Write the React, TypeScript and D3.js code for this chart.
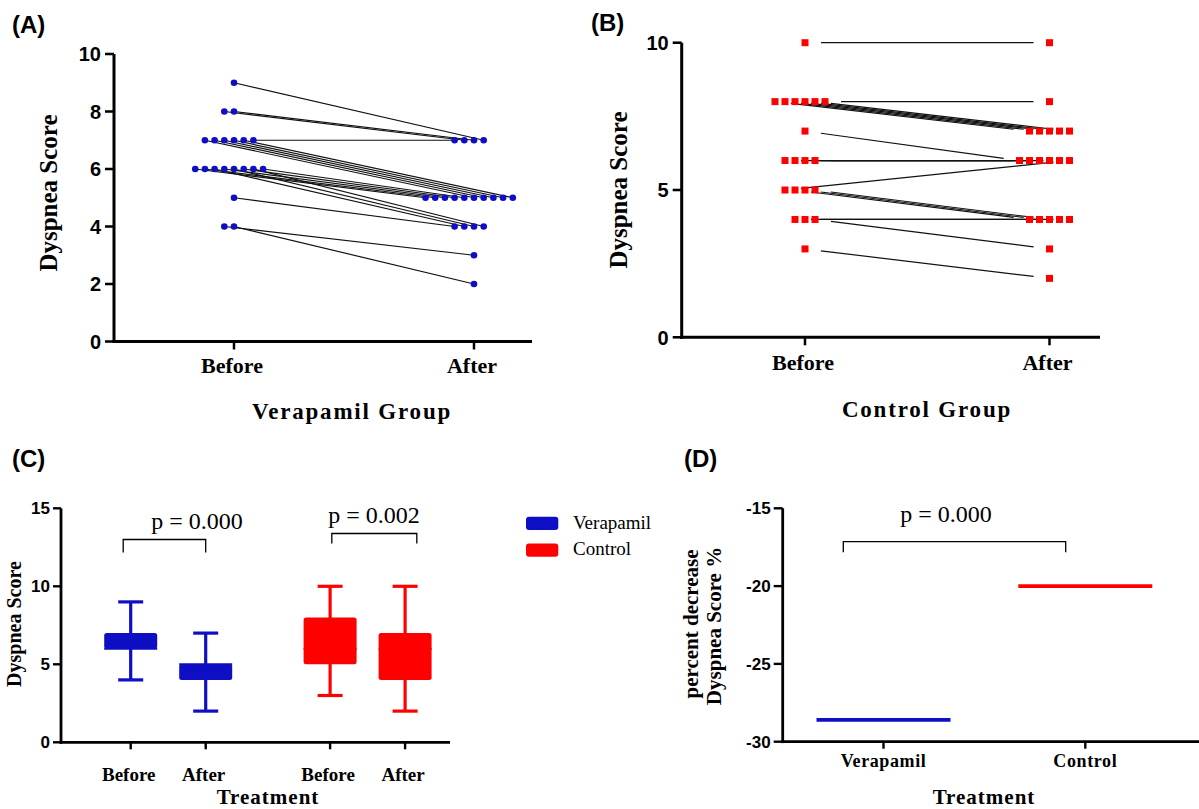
import React from 'react';
import * as d3 from 'd3';

// ---------------- data ----------------
const timepoints = ['Before', 'After'];
// Panel A – Verapamil group, paired subjects
const verapamilBefore = [5, 6, 6, 6, 6, 6, 6, 6, 6, 7, 7, 7, 7, 7, 7, 4, 4, 8, 8, 9];
const verapamilAfter = [4, 5, 5, 4, 5, 4, 5, 4, 5, 5, 5, 5, 5, 5, 7, 3, 2, 7, 7, 7];
// Panel B – Control group, paired subjects
const controlBefore = [10, 8, 8, 8, 8, 8, 8, 7, 6, 6, 6, 6, 5, 5, 5, 5, 4, 4, 4, 3];
const controlAfter = [10, 7, 7, 7, 7, 7, 8, 6, 6, 6, 6, 6, 6, 4, 4, 4, 4, 4, 3, 2];
const ticksA = [0, 2, 4, 6, 8, 10];
const ticksB = [0, 5, 10];
// Panel C – box plots
const boxGroups = ['Verapamil', 'Verapamil', 'Control', 'Control'];
const boxTimes = ['Before', 'After', 'Before', 'After'];
const boxMin = [4, 2, 3, 2];
const boxQ1 = [6, 4, 5, 4];
const boxMedian = [6, 5, 6, 6];
const boxQ3 = [7, 5, 8, 7];
const boxMax = [9, 7, 10, 10];
const ticksC = [0, 5, 10, 15];
const pValuesC = ['p = 0.000', 'p = 0.002'];
// Panel D – percent decrease
const treatments = ['Verapamil', 'Control'];
const percentDecrease = [-28.6, -20.0];
const ticksD = [-30, -25, -20, -15];
const pValueD = 'p = 0.000';

const BLUE = '#0e0ec4';
const RED = '#ff0000';
const groupColor: Record<string, string> = { Verapamil: BLUE, Control: RED };
const SERIF = "'Liberation Serif', 'Times New Roman', serif";
const SANS = "'Liberation Sans', Arial, sans-serif";

function dodge(values: number[]): number[] {
  const counts = new Map<number, number>();
  values.forEach(v => counts.set(v, (counts.get(v) || 0) + 1));
  const seen = new Map<number, number>();
  return values.map(v => {
    const n = counts.get(v)!;
    const i = seen.get(v) || 0;
    seen.set(v, i + 1);
    return i - Math.floor(n / 2);
  });
}

function YAxis({ scale, ticks, x, fontSize, labelGap, tickLen, width }: any) {
  const [r0, r1] = scale.range();
  return (
    <g>
      <line x1={x} x2={x} y1={r0 + width / 2} y2={r1} stroke="#000" strokeWidth={width} />
      {ticks.map((t: number) => (
        <g key={t}>
          <line x1={x - tickLen} x2={x} y1={scale(t)} y2={scale(t)} stroke="#000" strokeWidth={width * 0.85} />
          <text x={x - tickLen - labelGap} y={scale(t)} dy="0.36em" textAnchor="end"
            fontFamily={SANS} fontWeight="bold" fontSize={fontSize}>{t}</text>
        </g>
      ))}
    </g>
  );
}

function PairedPanel({ before, after, xScale, yScale, axisX, axisEnd, shape, color, spacing, gap, ticks,
  tickFont, title, titleX, titleY, label, ylabX, ylabY, ylabSize, catBaseline, catSize, groupLabel, groupX, groupY }: any) {
  const db = dodge(before);
  const da = dodge(after);
  const y0 = yScale(0);
  const pts = before.map((b: number, i: number) => ({
    x1: xScale('Before') + db[i] * spacing, y1: yScale(b),
    x2: xScale('After') + da[i] * spacing, y2: yScale(after[i]),
  }));
  return (
    <g>
      <text x={titleX} y={titleY} fontFamily={SANS} fontWeight="bold" fontSize={24}>{title}</text>
      {pts.map((p: any, i: number) => {
        const dx = p.x2 - p.x1, dy = p.y2 - p.y1;
        const L = Math.hypot(dx, dy);
        const ux = dx / L, uy = dy / L;
        return <line key={'l' + i} x1={p.x1 + ux * gap} y1={p.y1 + uy * gap} x2={p.x2 - ux * gap} y2={p.y2 - uy * gap}
          stroke="#111" strokeWidth={1.2} />;
      })}
      {pts.map((p: any, i: number) => (
        <g key={'p' + i}>
          {shape === 'circle' ? (
            <>
              <circle cx={p.x1} cy={p.y1} r={3.3} fill={color} />
              <circle cx={p.x2} cy={p.y2} r={3.3} fill={color} />
            </>
          ) : (
            <>
              <rect x={p.x1 - 3.5} y={p.y1 - 3.5} width={7} height={7} fill={color} />
              <rect x={p.x2 - 3.5} y={p.y2 - 3.5} width={7} height={7} fill={color} />
            </>
          )}
        </g>
      ))}
      <YAxis scale={yScale} ticks={ticks} x={axisX} fontSize={tickFont} labelGap={4} tickLen={9} width={3} />
      <line x1={axisX - 1.5} x2={axisEnd} y1={y0} y2={y0} stroke="#000" strokeWidth={3} />
      {timepoints.map(t => (
        <g key={t}>
          <line x1={xScale(t)} x2={xScale(t)} y1={y0} y2={y0 + 8} stroke="#000" strokeWidth={2.5} />
          <text x={xScale(t) - 2} y={catBaseline} textAnchor="middle" fontFamily={SERIF} fontWeight="bold" fontSize={catSize}>{t}</text>
        </g>
      ))}
      <text x={groupX} y={groupY} textAnchor="middle" fontFamily={SERIF} fontWeight="bold" fontSize={23} letterSpacing={1.8}>{groupLabel}</text>
      <text transform={`translate(${ylabX},${ylabY}) rotate(-90)`} textAnchor="middle" fontFamily={SERIF}
        fontWeight="bold" fontSize={ylabSize}>{label}</text>
    </g>
  );
}

function Bracket({ x1, x2, yTop, yBot }: any) {
  return <path d={`M${x1},${yBot}V${yTop}H${x2}V${yBot}`} fill="none" stroke="#000" strokeWidth={1.3} />;
}

export default function App() {
  const yA = d3.scaleLinear().domain([0, 10]).range([341.5, 54]);
  const xA = d3.scalePoint<string>().domain(timepoints).range([234, 474]);
  const yB = d3.scaleLinear().domain([0, 10]).range([337.3, 42.7]);
  const xB = d3.scalePoint<string>().domain(timepoints).range([805, 1049.5]);
  const yC = d3.scaleLinear().domain([0, 15]).range([742.3, 508.3]);
  const xCgroup = d3.scaleBand<string>().domain(treatments).range([68.5, 467.3]).padding(0);
  const xCtime = d3.scalePoint<string>().domain(timepoints).range([-37.5, 37.5]);
  const xC = (g: string, t: string) => xCgroup(g)! + xCgroup.bandwidth() / 2 + xCtime(t)!;
  const yD = d3.scaleLinear().domain([-30, -15]).range([741.7, 508.3]);
  const xD = d3.scalePoint<string>().domain(treatments).range([883.5, 1085.3]);

  const boxW = 53, capW = 25;
  const c0 = yC(0);
  const d0 = yD(-30);

  return (
    <svg width={1199} height={809} style={{ position: 'absolute', left: 0, top: 0, background: '#fff' }}>
      <rect width={1199} height={809} fill="#fff" />
      <PairedPanel before={verapamilBefore} after={verapamilAfter} xScale={xA} yScale={yA} axisX={114} axisEnd={532}
        shape="circle" color={BLUE} spacing={9.7} gap={0} ticks={ticksA} tickFont={20}
        title="(A)" titleX={12} titleY={33} label="Dyspnea Score" ylabX={57} ylabY={193} ylabSize={25}
        catBaseline={373} catSize={22} groupLabel="Verapamil Group" groupX={352} groupY={419} />
      <PairedPanel before={controlBefore} after={controlAfter} xScale={xB} yScale={yB} axisX={681.7} axisEnd={1100}
        shape="square" color={RED} spacing={10} gap={16} ticks={ticksB} tickFont={20}
        title="(B)" titleX={591} titleY={31} label="Dyspnea Score" ylabX={627} ylabY={190} ylabSize={25}
        catBaseline={370} catSize={22} groupLabel="Control Group" groupX={927} groupY={417} />

      {/* Panel C */}
      <text x={12} y={467} fontFamily={SANS} fontWeight="bold" fontSize={24}>(C)</text>
      {boxGroups.map((g, i) => {
        const cx = xC(g, boxTimes[i]);
        const col = groupColor[g];
        return (
          <g key={'box' + i}>
            <line x1={cx} x2={cx} y1={yC(boxMin[i])} y2={yC(boxMax[i])} stroke={col} strokeWidth={3.2} />
            <line x1={cx - capW / 2} x2={cx + capW / 2} y1={yC(boxMin[i])} y2={yC(boxMin[i])} stroke={col} strokeWidth={3.2} />
            <line x1={cx - capW / 2} x2={cx + capW / 2} y1={yC(boxMax[i])} y2={yC(boxMax[i])} stroke={col} strokeWidth={3.2} />
            <rect x={cx - boxW / 2} y={yC(boxQ3[i])} width={boxW} height={yC(boxQ1[i]) - yC(boxQ3[i])} rx={2.5} fill={col} />
            <line x1={cx - boxW / 2} x2={cx + boxW / 2} y1={yC(boxMedian[i])} y2={yC(boxMedian[i])} stroke={col} strokeWidth={2} />
          </g>
        );
      })}
      <YAxis scale={yC} ticks={ticksC} x={61} fontSize={17} labelGap={3} tickLen={8} width={2.8} />
      <line x1={59.6} x2={450} y1={c0} y2={c0} stroke="#000" strokeWidth={2.8} />
      {boxGroups.map((g, i) => (
        <g key={'ct' + i}>
          <line x1={xC(g, boxTimes[i])} x2={xC(g, boxTimes[i])} y1={c0} y2={c0 + 7} stroke="#000" strokeWidth={2.4} />
          <text x={xC(g, boxTimes[i]) - 2} y={781} textAnchor="middle" fontFamily={SERIF} fontWeight="bold" fontSize={19}>{boxTimes[i]}</text>
        </g>
      ))}
      <text x={268} y={804} textAnchor="middle" fontFamily={SERIF} fontWeight="bold" fontSize={21} letterSpacing={1}>Treatment</text>
      <text transform="translate(21,624) rotate(-90)" textAnchor="middle" fontFamily={SERIF} fontWeight="bold" fontSize={20}>Dyspnea Score</text>
      <Bracket x1={xC('Verapamil', 'Before') - 7.5} x2={xC('Verapamil', 'After')} yTop={539.5} yBot={552.5} />
      <text x={197} y={529} textAnchor="middle" fontFamily={SERIF} fontSize={24}>{pValuesC[0]}</text>
      <Bracket x1={xC('Control', 'Before') + 1.7} x2={xC('Control', 'After') + 11.7} yTop={533.5} yBot={543.5} />
      <text x={374} y={523} textAnchor="middle" fontFamily={SERIF} fontSize={24}>{pValuesC[1]}</text>
      {treatments.map((t, i) => (
        <g key={'lg' + t}>
          <rect x={526} y={516.7 + i * 26.7} width={32.3} height={13.3} rx={3} fill={groupColor[t]} />
          <text x={573} y={528.5 + i * 26.7} fontFamily={SERIF} fontSize={19}>{t}</text>
        </g>
      ))}

      {/* Panel D */}
      <text x={684} y={467} fontFamily={SANS} fontWeight="bold" fontSize={24}>(D)</text>
      {treatments.map((t, i) => (
        <line key={'dl' + t} x1={xD(t)! - 67} x2={xD(t)! + 67} y1={yD(percentDecrease[i])} y2={yD(percentDecrease[i])}
          stroke={groupColor[t]} strokeWidth={3.6} />
      ))}
      <YAxis scale={yD} ticks={ticksD} x={782.7} fontSize={17} labelGap={3} tickLen={9} width={2.8} />
      <line x1={781.3} x2={1199} y1={d0} y2={d0} stroke="#000" strokeWidth={2.8} />
      {treatments.map(t => (
        <g key={'dt' + t}>
          <line x1={xD(t)} x2={xD(t)} y1={d0} y2={d0 + 7} stroke="#000" strokeWidth={2.4} />
          <text x={xD(t)} y={767} textAnchor="middle" fontFamily={SERIF} fontWeight="bold" fontSize={18} letterSpacing={0.6}>{t}</text>
        </g>
      ))}
      <text x={984} y={804} textAnchor="middle" fontFamily={SERIF} fontWeight="bold" fontSize={21} letterSpacing={1}>Treatment</text>
      <text transform="translate(697.5,624) rotate(-90)" textAnchor="middle" fontFamily={SERIF} fontWeight="bold" fontSize={21}>percent decrease</text>
      <text transform="translate(720.5,626) rotate(-90)" textAnchor="middle" fontFamily={SERIF} fontWeight="bold" fontSize={21}>Dyspnea Score %</text>
      <Bracket x1={843.3} x2={1065.7} yTop={541.7} yBot={552.3} />
      <text x={946} y={522} textAnchor="middle" fontFamily={SERIF} fontSize={24}>{pValueD}</text>
    </svg>
  );
}
